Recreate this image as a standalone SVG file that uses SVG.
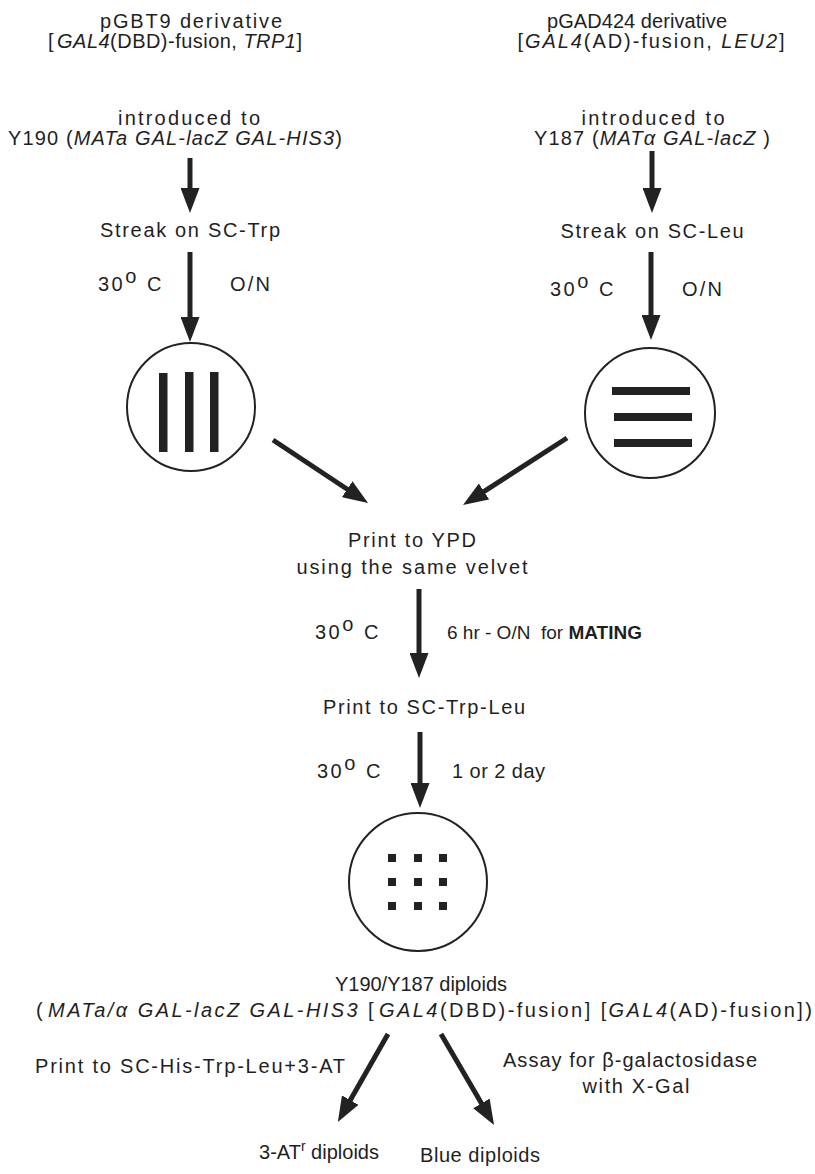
<svg xmlns="http://www.w3.org/2000/svg" width="815" height="1174" viewBox="0 0 815 1174">
<style>
text{font-family:"Liberation Sans",Arial,sans-serif;font-size:20px;fill:#1f1f1f}
.m{text-anchor:middle}
.i{font-style:italic}
.b{font-weight:bold}
.t{letter-spacing:2.5px}
.plate{fill:#fff;stroke:#222;stroke-width:2}
.mark{fill:#222}
.arr{stroke:#222;stroke-width:5;fill:none;marker-end:url(#ah)}
</style>
<defs>
<marker id="ah" viewBox="0 0 25 19" refX="15" refY="9.5" markerWidth="25" markerHeight="19" markerUnits="userSpaceOnUse" orient="auto">
<path d="M0,0 L25,9.5 L0,19 Z" fill="#222"/>
</marker>
</defs>
<rect width="815" height="1174" fill="#fff"/>

<g id="bait-plasmid">
<text class="m" x="191" y="28" textLength="182" lengthAdjust="spacing">pGBT9 derivative</text>
<text class="m" x="175" y="48" textLength="254" lengthAdjust="spacing">[<tspan class="i" dx="3">GAL4</tspan>(DBD)-fusion, <tspan class="i">TRP1</tspan>]</text>
</g>
<g id="bait-strain">
<text class="m" x="189" y="125" textLength="142" lengthAdjust="spacing">introduced to</text>
<text class="m" x="175" y="145" textLength="334" lengthAdjust="spacing">Y190 (<tspan class="i">MATa GAL-lacZ GAL-HIS3</tspan>)</text>
</g>
<g id="prey-plasmid">
<text class="m" x="637" y="28" textLength="180" lengthAdjust="spacing">pGAD424 derivative</text>
<text class="m" x="651" y="48" textLength="267" lengthAdjust="spacing">[<tspan class="i">GAL4</tspan>(AD)-fusion, <tspan class="i">LEU2</tspan>]</text>
</g>
<g id="prey-strain">
<text class="m" x="653" y="125" textLength="143" lengthAdjust="spacing">introduced to</text>
<text class="m" x="652" y="145" textLength="236" lengthAdjust="spacing">Y187 (<tspan class="i">MATα GAL-lacZ</tspan> )</text>
</g>
<g id="streak-trp">
<text class="m" x="190" y="237" textLength="180" lengthAdjust="spacing">Streak on SC-Trp</text>
</g>
<g id="streak-leu">
<text class="m" x="652" y="238" textLength="183" lengthAdjust="spacing">Streak on SC-Leu</text>
</g>
<g id="plate-trp">
<circle class="plate" cx="191" cy="407" r="64"/>
<rect class="mark" x="159" y="373" width="8.5" height="79"/>
<rect class="mark" x="185" y="372" width="8.5" height="80"/>
<rect class="mark" x="210" y="372" width="8.5" height="80"/>
</g>
<g id="plate-leu">
<circle class="plate" cx="650" cy="413" r="65"/>
<rect class="mark" x="612" y="387" width="78" height="8"/>
<rect class="mark" x="614" y="413" width="78" height="8"/>
<rect class="mark" x="614" y="439" width="78" height="8"/>
</g>
<g id="print-ypd">
<text class="m" x="412" y="547" textLength="128" lengthAdjust="spacing">Print to YPD</text>
<text class="m" x="412" y="574" textLength="231" lengthAdjust="spacing">using the same velvet</text>
</g>
<g id="print-sc-trp-leu">
<text class="m" x="424" y="714" textLength="202" lengthAdjust="spacing">Print to SC-Trp-Leu</text>
</g>
<g id="plate-diploid">
<circle class="plate" cx="418" cy="882" r="69"/>
<rect class="mark" x="388" y="854" width="8" height="8"/>
<rect class="mark" x="414" y="854" width="8" height="8"/>
<rect class="mark" x="439" y="854" width="8" height="8"/>
<rect class="mark" x="388" y="878" width="8" height="8"/>
<rect class="mark" x="414" y="878" width="8" height="8"/>
<rect class="mark" x="439" y="878" width="8" height="8"/>
<rect class="mark" x="388" y="902" width="8" height="8"/>
<rect class="mark" x="414" y="902" width="8" height="8"/>
<rect class="mark" x="439" y="902" width="8" height="8"/>
</g>
<g id="diploids">
<text class="m" x="421" y="991" textLength="172" lengthAdjust="spacing">Y190/Y187 diploids</text>
<text class="m" x="424" y="1017" textLength="776" lengthAdjust="spacing">(<tspan class="i" dx="3">MATa/α GAL-lacZ GAL-HIS3</tspan> [<tspan class="i" dx="3">GAL4</tspan>(DBD)-fusion] [<tspan class="i">GAL4</tspan>(AD)-fusion])</text>
</g>
<g id="result-3at">
<text class="m" x="319" y="1159">3-AT<tspan font-size="14" dy="-8">r</tspan><tspan dy="8"> diploids</tspan></text>
</g>
<g id="result-blue">
<text class="m" x="480" y="1162" textLength="120" lengthAdjust="spacing">Blue diploids</text>
</g>

<g id="connectors">
<line class="arr" x1="190" y1="158" x2="190" y2="203"/>
<line class="arr" x1="190" y1="252" x2="190" y2="332"/>
<line class="arr" x1="652" y1="151" x2="652" y2="203"/>
<line class="arr" x1="651" y1="252" x2="651" y2="330"/>
<line class="arr" x1="273" y1="440" x2="359.7" y2="497.5"/>
<line class="arr" x1="567" y1="438" x2="471.4" y2="499.6"/>
<line class="arr" x1="419" y1="589" x2="419" y2="668"/>
<line class="arr" x1="420" y1="732" x2="420" y2="798"/>
<line class="arr" x1="388" y1="1034" x2="342.8" y2="1113.2"/>
<line class="arr" x1="441" y1="1034" x2="489" y2="1116.3"/>
</g>

<g id="labels">
<text class="t" x="98" y="291">30<tspan dy="-8">o</tspan><tspan dy="8"> C</tspan></text>
<text x="230" y="291" textLength="40" lengthAdjust="spacing">O/N</text>
<text class="t" x="550" y="296">30<tspan dy="-8">o</tspan><tspan dy="8"> C</tspan></text>
<text x="682" y="296" textLength="40" lengthAdjust="spacing">O/N</text>
<text class="t" x="315" y="639">30<tspan dy="-8">o</tspan><tspan dy="8"> C</tspan></text>
<text x="447" y="639" style="white-space:pre;font-size:19px">6 hr - O/N  for <tspan class="b">MATING</tspan></text>
<text class="t" x="317" y="778">30<tspan dy="-8">o</tspan><tspan dy="8"> C</tspan></text>
<text x="452" y="778" textLength="93" lengthAdjust="spacing">1 or 2 day</text>
<text class="m" x="190" y="1073" textLength="310" lengthAdjust="spacing">Print to SC-His-Trp-Leu+3-AT</text>
<text class="m" x="630" y="1067" textLength="254" lengthAdjust="spacing">Assay for β-galactosidase</text>
<text class="m" x="636" y="1093" textLength="107" lengthAdjust="spacing">with X-Gal</text>
</g>
</svg>
